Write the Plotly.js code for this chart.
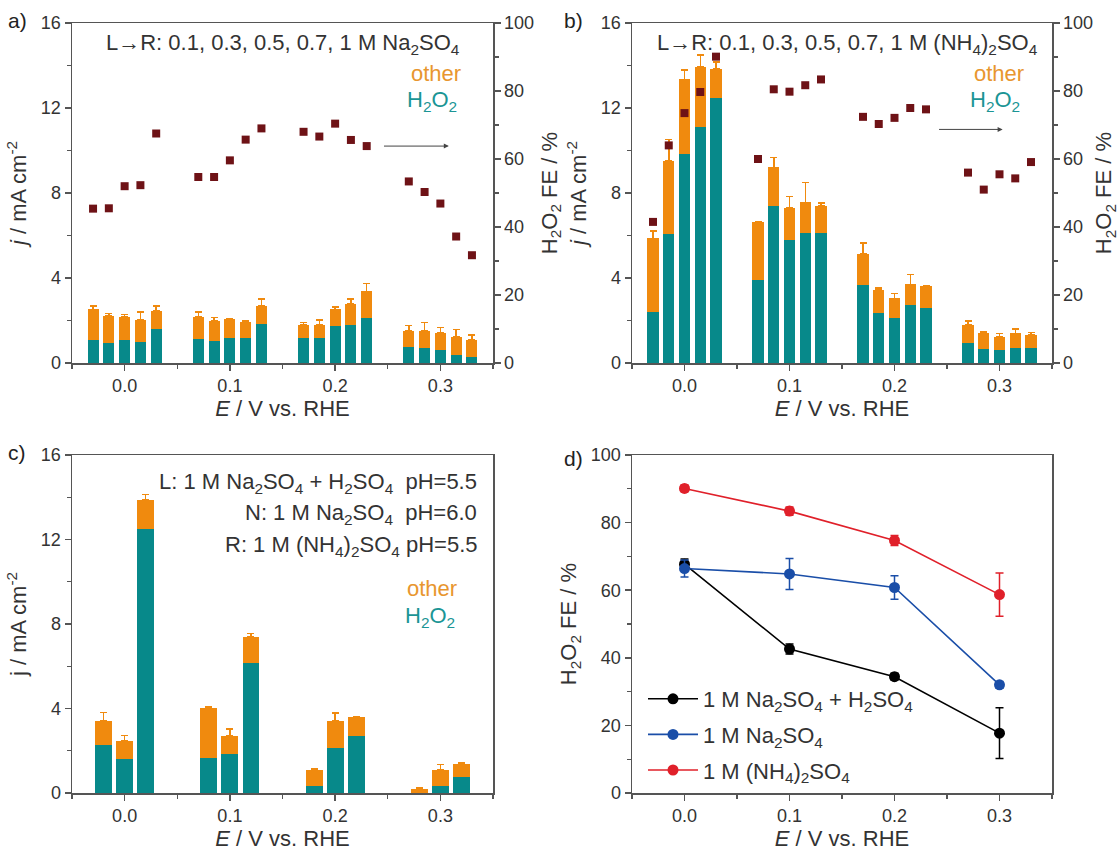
<!DOCTYPE html>
<html><head><meta charset="utf-8">
<script src="https://cdn.plot.ly/plotly-3.0.1.min.js"></script>
<style>html,body{margin:0;padding:0;background:#fff}#chart{width:1119px;height:855px}</style>
</head><body><div id="chart"></div>
<script>
// ---------- data ----------
const potentials = [0.0, 0.1, 0.2, 0.3];            // E / V vs. RHE
const concentrations = [0.1, 0.3, 0.5, 0.7, 1.0];   // M, L -> R
const electrolytes = ['L', 'N', 'R'];
const xTickLabels = ['0.0', '0.1', '0.2', '0.3'];

// panel a: Na2SO4 concentration series (per potential, 5 concentrations)
const aH2O2 = [1.07,0.96,1.07,1.01,1.61, 1.13,1.02,1.17,1.18,1.83, 1.17,1.17,1.73,1.78,2.13, 0.76,0.72,0.63,0.39,0.28];
const aTotal = [2.52,2.22,2.17,2.02,2.44, 2.16,1.98,2.05,1.91,2.68, 1.78,1.78,2.52,2.77,3.37, 1.50,1.50,1.43,1.23,1.10];
const aErr = [0.16,0.11,0.11,0.39,0.24, 0.23,0.16,0.03,0.07,0.34, 0.13,0.24,0.11,0.25,0.38, 0.26,0.41,0.24,0.34,0.22];
const aFE = [45.4,45.5,52.0,52.3,67.5, 54.7,54.7,59.6,65.7,69.0, 68.0,66.6,70.4,65.6,63.8, 53.4,50.3,46.9,37.2,31.7];

// panel b: (NH4)2SO4 concentration series
const bH2O2 = [2.38,6.06,9.83,11.10,12.46, 3.91,7.37,5.78,6.11,6.11, 3.67,2.36,2.14,2.72,2.61, 0.94,0.65,0.63,0.71,0.72];
const bTotal = [5.87,9.50,13.35,13.94,13.83, 6.63,9.21,7.29,7.56,7.40, 5.12,3.43,3.04,3.70,3.62, 1.81,1.39,1.23,1.39,1.34];
const bErr = [0.35,1.02,0.45,0.55,0.34, 0.03,0.46,0.55,0.94,0.13, 0.52,0.11,0.24,0.46,0.02, 0.16,0.07,0.16,0.20,0.09];
const bFE = [41.5,64.0,73.5,79.7,90.1, 60.0,80.5,79.8,81.7,83.4, 72.4,70.3,72.1,75.0,74.6, 56.0,51.0,55.5,54.3,59.1];

// panel c: L / N / R electrolytes (1 M)
const cH2O2 = [2.27,1.61,12.51, 1.66,1.83,6.16, 0.35,2.13,2.69, 0.02,0.32,0.76];
const cTotal = [3.43,2.45,13.87, 4.03,2.70,7.39, 1.11,3.40,3.62, 0.21,1.11,1.37];
const cErr = [0.39,0.27,0.27, 0.05,0.33,0.16, 0.03,0.39,0.01, 0.02,0.23,0.08];

// panel d: H2O2 FE / %
const dAcidFE = [67.7, 42.6, 34.4, 17.7];
const dAcidErr = [1.5, 1.5, 1.0, 7.5];
const dNaFE = [66.4, 64.8, 60.8, 32.0];
const dNaErr = [2.5, 4.6, 3.5, 1.0];
const dNH4FE = [90.1, 83.4, 74.7, 58.7];
const dNH4Err = [1.0, 1.2, 1.5, 6.4];
const dNames = ['1 M Na<sub>2</sub>SO<sub>4</sub> + H<sub>2</sub>SO<sub>4</sub>', '1 M Na<sub>2</sub>SO<sub>4</sub>', '1 M (NH<sub>4</sub>)<sub>2</sub>SO<sub>4</sub>'];

// ---------- styles ----------
const TEAL = '#07898A', ORANGE = '#F08A0E', DRED = '#6E1216';
const AX = '#555', TXT = '#333';
const FONT = 'Liberation Sans, Arial, sans-serif';

function positions(n, step) {
  return potentials.flatMap(E => Array.from({length: n}, (_, i) => E + (i - (n - 1) / 2) * step));
}
const pos5 = positions(concentrations.length, 0.015);
const pos3 = positions(electrolytes.length, 0.02);
const sub = (a, b) => a.map((v, i) => +(v - b[i]).toFixed(3));

function barPair(x, h2o2, total, err, xa, ya, width) {
  return [
    {type: 'bar', x: x, y: h2o2, width: width, marker: {color: TEAL, line: {width: 0}}, xaxis: xa, yaxis: ya, showlegend: false, hoverinfo: 'skip'},
    {type: 'bar', x: x, y: sub(total, h2o2), width: width, marker: {color: ORANGE, line: {width: 0}}, xaxis: xa, yaxis: ya, showlegend: false, hoverinfo: 'skip',
     error_y: {type: 'data', symmetric: false, array: err, arrayminus: err.map(() => 0), color: ORANGE, thickness: 1.5, width: 3.5}}
  ];
}

const traces = [
  ...barPair(pos5, aH2O2, aTotal, aErr, 'x', 'y', 0.0105),
  {type: 'scatter', mode: 'markers', x: pos5, y: aFE, xaxis: 'x', yaxis: 'y2', marker: {symbol: 'square', size: 8, color: DRED}, showlegend: false},
  ...barPair(pos5, bH2O2, bTotal, bErr, 'x2', 'y3', 0.0105),
  {type: 'scatter', mode: 'markers', x: pos5, y: bFE, xaxis: 'x2', yaxis: 'y4', marker: {symbol: 'square', size: 8, color: DRED}, showlegend: false},
  ...barPair(pos3, cH2O2, cTotal, cErr, 'x3', 'y5', 0.016),
];
const dSeries = [[dAcidFE, dAcidErr, '#000000'], [dNaFE, dNaErr, '#1A4EA8'], [dNH4FE, dNH4Err, '#E0202A']];
dSeries.forEach((s, i) => {
  traces.push({type: 'scatter', mode: 'lines+markers', x: potentials, y: s[0], xaxis: 'x4', yaxis: 'y6',
    name: dNames[i], legendgroup: 'g' + i,
    line: {color: s[2], width: 1.6}, marker: {size: 11, color: s[2]},
    error_y: {type: 'data', array: s[1], color: s[2], thickness: 1.5, width: 4}});
});

const dxA = [72/1119, 493/1119], dxB = [632/1119, 1052/1119];
const dyT = [1 - 363/855, 1 - 23/855], dyB = [1 - 793/855, 1 - 455/855];

function xAxis(domain, anchor) {
  return {domain: domain, anchor: anchor, range: [-0.05, 0.35], tickvals: potentials, ticktext: xTickLabels,
    showline: true, linecolor: AX, linewidth: 1.5, mirror: true, ticks: 'outside', ticklen: 6, tickwidth: 1.5, tickcolor: AX,
    minor: {ticks: 'outside', ticklen: 4, tickwidth: 1.2, tickcolor: AX, dtick: 0.05, tick0: 0},
    showgrid: false, zeroline: false, tickfont: {family: FONT, size: 18, color: TXT},
    title: {text: '<i>E</i> / V vs. RHE', font: {family: FONT, size: 22, color: TXT}, standoff: 4}, automargin: false, fixedrange: true};
}
function yAxis(domain, anchor, range, dtick, mdtick, title, extra) {
  return Object.assign({domain: domain, anchor: anchor, range: range, dtick: dtick, tick0: 0,
    showline: true, linecolor: AX, linewidth: 1.5, ticks: 'outside', ticklen: 6, tickwidth: 1.5, tickcolor: AX,
    minor: {ticks: 'outside', ticklen: 4, tickwidth: 1.2, tickcolor: AX, dtick: mdtick, tick0: 0},
    showgrid: false, zeroline: false, tickfont: {family: FONT, size: 18, color: TXT},
    title: {text: title, font: {family: FONT, size: 22, color: TXT}, standoff: 8}, automargin: false, fixedrange: true}, extra || {});
}
const jTitle = '<i>j</i> / mA cm<sup>-2</sup>';
const feTitle = 'H<sub>2</sub>O<sub>2</sub> FE / %';

const ann = [];
function txt(x, y, text, opts) {
  ann.push(Object.assign({xref: 'paper', yref: 'paper', x: x / 1119, y: 1 - y / 855, text: text, showarrow: false,
    font: {family: FONT, size: 22, color: TXT}, xanchor: 'center', yanchor: 'middle'}, opts || {}));
}
const lab = {family: FONT, size: 21, color: '#222'};
txt(6, 20, 'a)', {xanchor: 'left', font: lab});
txt(562, 20, 'b)', {xanchor: 'left', font: lab});
txt(6, 452, 'c)', {xanchor: 'left', font: lab});
txt(562, 458, 'd)', {xanchor: 'left', font: lab});
txt(283, 44, 'L→R: 0.1, 0.3, 0.5, 0.7, 1 M Na<sub>2</sub>SO<sub>4</sub>');
txt(847, 44, 'L→R: 0.1, 0.3, 0.5, 0.7, 1 M (NH<sub>4</sub>)<sub>2</sub>SO<sub>4</sub>');
const otherC = '#E8962E', h2o2C = '#1B9595';
txt(463, 73, 'other', {xanchor: 'right', font: {family: FONT, size: 22, color: otherC}});
txt(459, 101, 'H<sub>2</sub>O<sub>2</sub>', {xanchor: 'right', font: {family: FONT, size: 22, color: h2o2C}});
txt(1026, 73, 'other', {xanchor: 'right', font: {family: FONT, size: 22, color: otherC}});
txt(1022, 101, 'H<sub>2</sub>O<sub>2</sub>', {xanchor: 'right', font: {family: FONT, size: 22, color: h2o2C}});
txt(479, 483, 'L: 1 M Na<sub>2</sub>SO<sub>4</sub> + H<sub>2</sub>SO<sub>4</sub>  pH=5.5', {xanchor: 'right'});
txt(479, 514, 'N: 1 M Na<sub>2</sub>SO<sub>4</sub>  pH=6.0', {xanchor: 'right'});
txt(479, 546, 'R: 1 M (NH<sub>4</sub>)<sub>2</sub>SO<sub>4</sub> pH=5.5', {xanchor: 'right'});
txt(459, 588, 'other', {xanchor: 'right', font: {family: FONT, size: 22, color: otherC}});
txt(457, 617, 'H<sub>2</sub>O<sub>2</sub>', {xanchor: 'right', font: {family: FONT, size: 22, color: h2o2C}});
// arrows pointing to the right-hand FE axis
ann.push({xref: 'x', yref: 'y2', axref: 'x', ayref: 'y2', x: 0.308, y: 63.8, ax: 0.245, ay: 63.8, text: '', showarrow: true, arrowhead: 2, arrowsize: 1, arrowwidth: 1, arrowcolor: '#444'});
ann.push({xref: 'x2', yref: 'y4', axref: 'x2', ayref: 'y4', x: 0.303, y: 68.7, ax: 0.241, ay: 68.7, text: '', showarrow: true, arrowhead: 2, arrowsize: 1, arrowwidth: 1, arrowcolor: '#444'});

const layout = {
  width: 1119, height: 855, margin: {l: 0, r: 0, t: 0, b: 0, pad: 0},
  paper_bgcolor: '#fff', plot_bgcolor: 'rgba(0,0,0,0)',
  barmode: 'stack', font: {family: FONT, color: TXT},
  xaxis: xAxis(dxA, 'y'),
  yaxis: yAxis(dyT, 'x', [0, 16], 4, 2, jTitle),
  yaxis2: yAxis(dyT, 'x', [0, 100], 20, 10, feTitle, {overlaying: 'y', side: 'right'}),
  xaxis2: xAxis(dxB, 'y3'),
  yaxis3: yAxis(dyT, 'x2', [0, 16], 4, 2, jTitle),
  yaxis4: yAxis(dyT, 'x2', [0, 100], 20, 10, feTitle, {overlaying: 'y3', side: 'right'}),
  xaxis3: xAxis(dxA, 'y5'),
  yaxis5: yAxis(dyB, 'x3', [0, 16], 4, 2, 'j / mA cm<sup>-2</sup>', {mirror: true}),
  xaxis4: xAxis(dxB, 'y6'),
  yaxis6: yAxis(dyB, 'x4', [0, 100], 20, 10, feTitle, {mirror: true}),
  showlegend: true,
  legend: {x: 643/1119, y: 1 - 678/855, xanchor: 'left', yanchor: 'top', bgcolor: 'rgba(0,0,0,0)', borderwidth: 0,
    font: {family: FONT, size: 22, color: TXT}, tracegroupgap: 4, itemwidth: 50, traceorder: 'grouped'},
  annotations: ann
};
layout.yaxis.mirror = false;
layout.yaxis3.mirror = false;

Plotly.newPlot('chart', traces, layout, {staticPlot: true});
</script>
</body></html>
